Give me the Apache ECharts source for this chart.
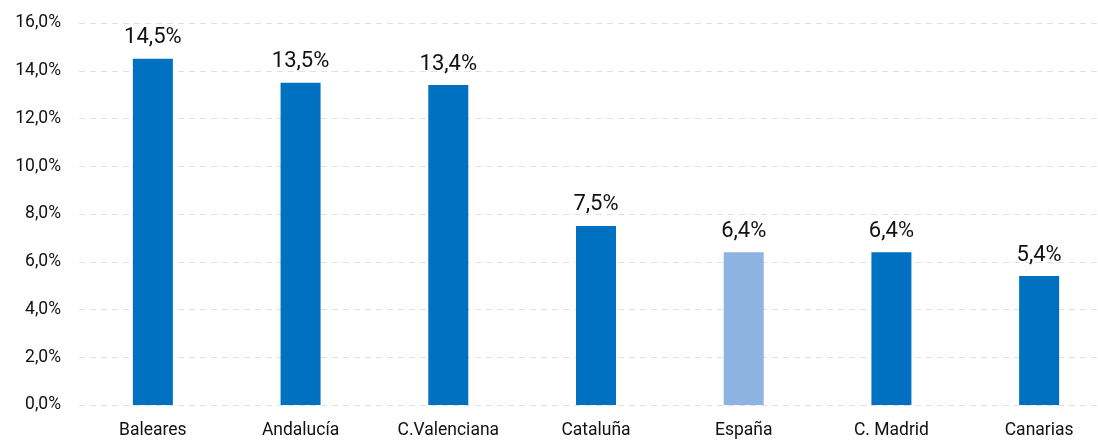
<!DOCTYPE html>
<html><head><meta charset="utf-8">
<script src="https://cdn.jsdelivr.net/npm/echarts@6/dist/echarts.min.js"></script>
<style>html,body{margin:0;padding:0;background:#fff;overflow:hidden}#c{width:1113px;height:440px}</style>
</head><body><div id="c"></div>
<script>
const categories = ["Baleares","Andalucía","C.Valenciana","Cataluña","España","C. Madrid","Canarias"];
const values = [14.5, 13.5, 13.4, 7.5, 6.4, 6.4, 5.4];
const highlight = ["España"];
const yTicks = {min: 0, max: 16, interval: 2};
const fmt = v => v.toFixed(1).replace('.', ',') + '%';
const chart = echarts.init(document.getElementById('c'));
chart.setOption({
  animation: false,
  textStyle: {fontFamily: 'Roboto'},
  grid: {left: 79, top: 23, right: 0, bottom: 35, containLabel: false},
  xAxis: {
    type: 'category', data: categories,
    axisLine: {show: false}, axisTick: {show: false},
    axisLabel: {color: '#111', fontSize: 17.5, margin: 17, fontFamily: 'Roboto'}
  },
  yAxis: {
    type: 'value', min: yTicks.min, max: yTicks.max, interval: yTicks.interval,
    axisLabel: {formatter: fmt, color: '#111', fontSize: 17.5, margin: 18, fontFamily: 'Roboto'},
    splitLine: {lineStyle: {type: [6, 5], color: '#e0e0e0', width: 1}},
    axisLine: {show: false}, axisTick: {show: false}
  },
  series: [{
    type: 'bar', barWidth: 40,
    data: values.map((v, i) => ({value: v, itemStyle: {color: highlight.includes(categories[i]) ? '#8DB3E2' : '#0070C0'}})),
    label: {show: true, position: 'top', distance: 10, formatter: p => fmt(p.value), fontSize: 22, color: '#111', fontFamily: 'Roboto'}
  }]
});
</script></body></html>
